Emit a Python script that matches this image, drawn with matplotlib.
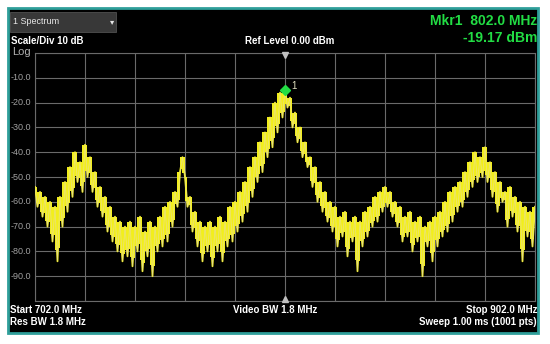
import numpy as np
import matplotlib.pyplot as plt
from matplotlib.patches import Rectangle

# sweep settings
start_mhz = 702.0
stop_mhz = 902.0
ytick_vals = [-10, -20, -30, -40, -50, -60, -70, -80, -90]
ytick_labels = ["-10.0", "-20.0", "-30.0", "-40.0", "-50.0", "-60.0", "-70.0", "-80.0", "-90.0"]

# trace, one value per MHz from 702 to 902 (dBm)
freq_mhz = np.arange(702, 903, 1)
trace_dbm = [
    -54, -62, -56, -66, -58, -70, -60, -76, -62, -84,
    -58, -70, -52, -64, -46, -58, -40, -52, -44, -56,
    -37, -50, -42, -56, -48, -62, -54, -66, -58, -72,
    -62, -76, -66, -80, -68, -84, -70, -82, -68, -86,
    -70, -80, -66, -88, -72, -82, -68, -90, -70, -80,
    -66, -78, -62, -76, -60, -70, -56, -62, -48, -42,
    -50, -62, -58, -72, -64, -78, -68, -84, -70, -80,
    -68, -86, -70, -80, -66, -84, -68, -78, -62, -76,
    -60, -72, -56, -68, -52, -64, -46, -58, -42, -52,
    -36, -48, -32, -42, -26, -38, -20, -32, -16, -26,
    -14, -22, -18, -30, -24, -36, -30, -42, -36, -46,
    -42, -54, -46, -60, -52, -64, -56, -68, -60, -72,
    -62, -78, -66, -74, -64, -82, -68, -76, -66, -88,
    -68, -78, -64, -74, -62, -70, -58, -68, -56, -64,
    -54, -62, -56, -66, -60, -70, -62, -76, -66, -74,
    -64, -80, -68, -76, -66, -90, -70, -78, -68, -84,
    -66, -78, -64, -74, -60, -72, -56, -68, -54, -64,
    -52, -62, -48, -58, -44, -54, -40, -52, -42, -50,
    -38, -52, -44, -58, -48, -64, -52, -60, -56, -70,
    -54, -66, -58, -72, -60, -84, -62, -74, -64, -78,
    -62,
]

mkr_freq = 802.0
mkr_dbm = -19.17
mkr_draw_dbm = -15.0  # where the diamond sits on screen

W, H = 550, 344
fig = plt.figure(figsize=(5.5, 3.44), dpi=100)
fig.patch.set_facecolor("white")

def fx(px):
    return px / W

def fy(py):
    return 1 - py / H

# instrument screen frame
fig.patches.append(Rectangle((fx(8), fy(333)), fx(530), (325) / H, transform=fig.transFigure,
                             facecolor="black", edgecolor="#2f9f9a", lw=2, zorder=-2))
# "1 Spectrum" tab
fig.patches.append(Rectangle((fx(10), fy(32)), fx(106), 20 / H, transform=fig.transFigure,
                             facecolor="#383838", edgecolor="#505050", lw=0.6, zorder=-1))

font = "Liberation Sans"
fig.text(fx(13), fy(22), "1 Spectrum", color="#e8e8e8", fontsize=6.5, family=font, va="center")
fig.text(fx(112), fy(22), "▾", color="#e8e8e8", fontsize=6, va="center", ha="center")
fig.text(fx(11), fy(41), "Scale/Div 10 dB", color="white", fontsize=7, family=font,
         weight="bold", va="center")
fig.text(fx(12), fy(52), "Log", color="#b0b0b0", fontsize=8, family=font, va="center")
fig.text(fx(290), fy(41), "Ref Level 0.00 dBm", color="white", fontsize=7, family=font,
         weight="bold", va="center", ha="center")
fig.text(fx(537), fy(21), "Mkr1  %.1f MHz" % mkr_freq, color="#22dd44", fontsize=10,
         family=font, weight="bold", va="center", ha="right")
fig.text(fx(537), fy(38), "%.2f dBm" % mkr_dbm, color="#22dd44", fontsize=10,
         family=font, weight="bold", va="center", ha="right")
fig.text(fx(10), fy(310), "Start %.1f MHz" % start_mhz, color="white", fontsize=7,
         family=font, weight="bold", va="center")
fig.text(fx(10), fy(322), "Res BW 1.8 MHz", color="white", fontsize=7, family=font,
         weight="bold", va="center")
fig.text(fx(233), fy(310), "Video BW 1.8 MHz", color="white", fontsize=7, family=font,
         weight="bold", va="center")
fig.text(fx(537), fy(310), "Stop %.1f MHz" % stop_mhz, color="white", fontsize=7,
         family=font, weight="bold", va="center", ha="right")
fig.text(fx(537), fy(322), "Sweep 1.00 ms (1001 pts)", color="white", fontsize=7,
         family=font, weight="bold", va="center", ha="right")

# graticule
ax = fig.add_axes([fx(35), fy(301), fx(500), 248 / H])
ax.set_zorder(5)
ax.set_facecolor("black")
ax.set_xlim(start_mhz, stop_mhz)
ax.set_ylim(-100, 0)
ax.set_xticks(np.linspace(start_mhz, stop_mhz, 11))
ax.set_yticks(np.arange(-100, 1, 10))
ax.grid(True, color="#6a6a6a", lw=0.8)
ax.tick_params(length=0, labelbottom=False, labelleft=False)
for s in ax.spines.values():
    s.set_color("#6a6a6a")
    s.set_linewidth(0.8)

for v, lab in zip(ytick_vals, ytick_labels):
    ax.text(-0.008, v, lab, transform=ax.get_yaxis_transform(), ha="right", va="center",
            color="#a0a0a0", fontsize=6.5, family=font)

# fill the noise band between neighbouring samples so it reads as a solid trace
t = np.array(trace_dbm, dtype=float)
pair_hi = np.maximum(t[:-1], t[1:])
pair_lo = np.minimum(t[:-1], t[1:])
core_lo = pair_hi - 0.8 * (pair_hi - pair_lo)
ax.fill_between(freq_mhz[:-1] + 0.5, core_lo, pair_hi, step="mid", color="#f2ee1c",
                lw=0, zorder=2)
ax.plot(freq_mhz, trace_dbm, color="#f4f020", lw=1.3, zorder=3)
ax.plot(freq_mhz, trace_dbm, color="#e6dc9a", lw=0.5, alpha=0.8, zorder=4)

# marker
ax.plot([mkr_freq], [mkr_draw_dbm], marker="D", ms=5, color="#22dd44", zorder=5, clip_on=False)
ax.text(mkr_freq + 2.5, mkr_draw_dbm + 1.5, "1", color="#e0e0c0", fontsize=7, family=font,
        va="center", zorder=5)
# center triangles
ax.plot([(start_mhz + stop_mhz) / 2], [-0.8], marker="v", ms=4, color="#c0c0c0", zorder=5,
        clip_on=False)
ax.plot([(start_mhz + stop_mhz) / 2], [-99.2], marker="^", ms=4, color="#c0c0c0", zorder=5,
        clip_on=False)

fig.savefig("out.png", dpi=100, facecolor=fig.get_facecolor())
